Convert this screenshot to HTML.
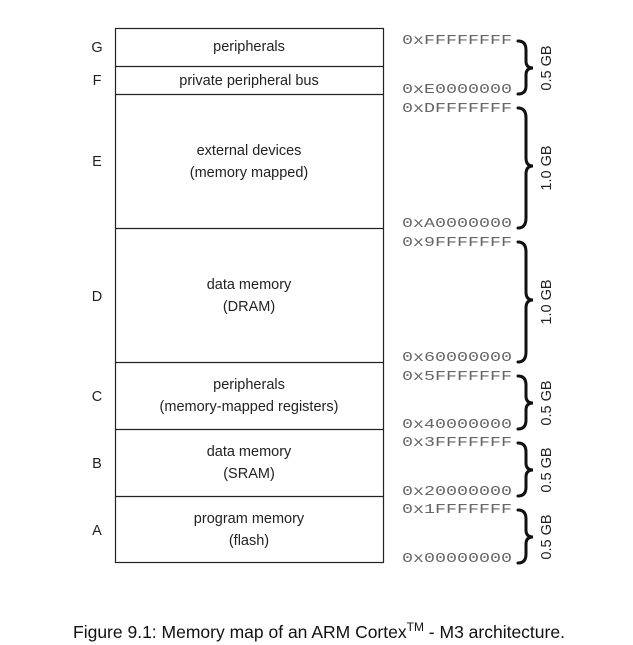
<!DOCTYPE html>
<html><head><style>body{margin:0;background:#fff}svg{display:block}</style></head><body>
<svg width="633" height="645" viewBox="0 0 633 645" xmlns="http://www.w3.org/2000/svg">
<g fill="none" stroke="#222" stroke-width="1.2">
<rect x="115.5" y="28.5" width="268" height="534"/>
<line x1="115" y1="66.5" x2="384" y2="66.5"/>
<line x1="115" y1="94.5" x2="384" y2="94.5"/>
<line x1="115" y1="228.5" x2="384" y2="228.5"/>
<line x1="115" y1="362.5" x2="384" y2="362.5"/>
<line x1="115" y1="429.5" x2="384" y2="429.5"/>
<line x1="115" y1="496.5" x2="384" y2="496.5"/>
</g>
<g font-family="Liberation Sans, sans-serif" font-size="14.5" fill="#222" text-anchor="middle">
<text x="249" y="51">peripherals</text>
<text x="249" y="85">private peripheral bus</text>
<text x="249" y="155">external devices</text>
<text x="249" y="177">(memory mapped)</text>
<text x="249" y="289">data memory</text>
<text x="249" y="311">(DRAM)</text>
<text x="249" y="389">peripherals</text>
<text x="249" y="411">(memory-mapped registers)</text>
<text x="249" y="456">data memory</text>
<text x="249" y="478">(SRAM)</text>
<text x="249" y="523">program memory</text>
<text x="249" y="545">(flash)</text>
<text x="97" y="52">G</text>
<text x="97" y="85">F</text>
<text x="97" y="166">E</text>
<text x="97" y="301">D</text>
<text x="97" y="401">C</text>
<text x="97" y="468">B</text>
<text x="97" y="535">A</text>
</g>
<g font-family="Liberation Mono, monospace" font-size="13.5" fill="#666">
<text x="402" y="44" textLength="110" lengthAdjust="spacingAndGlyphs">0xFFFFFFFF</text>
<text x="402" y="93" textLength="110" lengthAdjust="spacingAndGlyphs">0xE0000000</text>
<text x="402" y="112" textLength="110" lengthAdjust="spacingAndGlyphs">0xDFFFFFFF</text>
<text x="402" y="227" textLength="110" lengthAdjust="spacingAndGlyphs">0xA0000000</text>
<text x="402" y="246" textLength="110" lengthAdjust="spacingAndGlyphs">0x9FFFFFFF</text>
<text x="402" y="361" textLength="110" lengthAdjust="spacingAndGlyphs">0x60000000</text>
<text x="402" y="380" textLength="110" lengthAdjust="spacingAndGlyphs">0x5FFFFFFF</text>
<text x="402" y="428" textLength="110" lengthAdjust="spacingAndGlyphs">0x40000000</text>
<text x="402" y="446" textLength="110" lengthAdjust="spacingAndGlyphs">0x3FFFFFFF</text>
<text x="402" y="495" textLength="110" lengthAdjust="spacingAndGlyphs">0x20000000</text>
<text x="402" y="513" textLength="110" lengthAdjust="spacingAndGlyphs">0x1FFFFFFF</text>
<text x="402" y="562" textLength="110" lengthAdjust="spacingAndGlyphs">0x00000000</text>
</g>
<g fill="none" stroke="#111" stroke-width="3" stroke-linecap="round">
<path d="M518,41 Q526,41 526,50 L526,61 Q526,68 533,68 Q526,68 526,75 L526,86 Q526,94 518,94"/>
<path d="M518,108 Q526,108 526,118 L526,158 Q526,166 533,166 Q526,166 526,174 L526,218 Q526,228 518,228"/>
<path d="M518,242 Q526,242 526,252 L526,292 Q526,300 533,300 Q526,300 526,308 L526,352 Q526,362 518,362"/>
<path d="M518,376 Q526,376 526,385 L526,396 Q526,403 533,403 Q526,403 526,410 L526,420 Q526,429 518,429"/>
<path d="M518,443 Q526,443 526,452 L526,463 Q526,470 533,470 Q526,470 526,477 L526,487 Q526,496 518,496"/>
<path d="M518,510 Q526,510 526,519 L526,530 Q526,537 533,537 Q526,537 526,544 L526,554 Q526,563 518,563"/>
</g>
<g font-family="Liberation Sans, sans-serif" font-size="14.5" fill="#222" text-anchor="middle">
<text transform="translate(551,68) rotate(-90)">0.5 GB</text>
<text transform="translate(551,168) rotate(-90)">1.0 GB</text>
<text transform="translate(551,302) rotate(-90)">1.0 GB</text>
<text transform="translate(551,403) rotate(-90)">0.5 GB</text>
<text transform="translate(551,470) rotate(-90)">0.5 GB</text>
<text transform="translate(551,537) rotate(-90)">0.5 GB</text>
</g>
<text x="319" y="638" font-family="Liberation Sans, sans-serif" font-size="17.5" fill="#111" text-anchor="middle">Figure 9.1: Memory map of an ARM Cortex<tspan font-size="12" dy="-7">TM</tspan><tspan dy="7"> - M3 architecture.</tspan></text>
</svg>
</body></html>
